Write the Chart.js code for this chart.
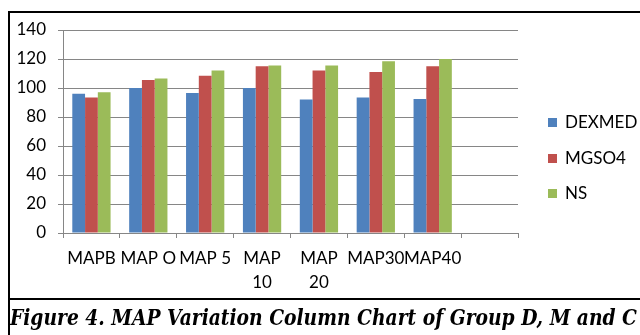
<!DOCTYPE html>
<html>
<head>
<meta charset="utf-8">
<script src="https://cdn.jsdelivr.net/npm/chart.js@4/dist/chart.umd.min.js"></script>
<style>
  html, body { margin: 0; padding: 0; background: #fff; }
  body { width: 640px; height: 335px; position: relative; overflow: hidden; }
  #wrap { position: absolute; left: 0; top: 0; width: 640px; height: 297px; }
  .line { position: absolute; background: #000; }
  .leg { position: absolute; left: 548px; font-family: Lato, "Liberation Sans", sans-serif; font-size: 17px; color: #000; line-height: 20px; height: 20px; white-space: nowrap; }
  .leg span.sw { display: inline-block; width: 9px; height: 9px; margin-right: 8px; vertical-align: 1px; }
  #cap { position: absolute; left: 10px; top: 305px; font-family: "DejaVu Serif Condensed", "DejaVu Serif", serif; font-weight: bold; font-style: italic; font-size: 23px; line-height: 23px; white-space: nowrap; transform-origin: 0 0; color: #000; }
</style>
</head>
<body>
<div id="wrap"><canvas id="c" width="640" height="297"></canvas></div>
<div class="line" style="left:8px; top:11px; width:632px; height:2px;"></div>
<div class="line" style="left:8px; top:11px; width:2px; height:324px;"></div>
<div class="line" style="left:8px; top:298px; width:632px; height:2px;"></div>
<div id="legend"></div>
<div id="cap">Figure 4. MAP Variation Column Chart of Group D, M and C</div>
<script>
const categories = ["MAPB", "MAP O", "MAP 5", ["MAP", "10"], ["MAP", "20"], "MAP30", "MAP40", ""];
const seriesNames = ["DEXMED", "MGSO4", "NS"];
const dexmed = [96, 100, 96.5, 100, 92, 93.5, 92.5, null];
const mgso4  = [93.5, 105.5, 108.5, 115, 112, 111, 115, null];
const ns     = [97, 106.5, 112, 115.5, 115.5, 118.5, 120, null];
const yTicks = [0, 20, 40, 60, 80, 100, 120, 140];
const colors = ["#4F81BD", "#C0504D", "#9BBB59"];

const series = [dexmed, mgso4, ns];
const font = { family: "Lato, 'Liberation Sans', sans-serif", size: 17 };

new Chart(document.getElementById('c'), {
  type: 'bar',
  data: {
    labels: categories,
    datasets: series.map((d, i) => ({
      label: seriesNames[i],
      data: d,
      backgroundColor: colors[i],
      borderWidth: 0,
      categoryPercentage: 0.673,
      barPercentage: 1.0
    }))
  },
  options: {
    responsive: false,
    animation: false,
    layout: { padding: { left: 0, right: 122, top: 30, bottom: 0 } },
    plugins: { legend: { display: false }, tooltip: { enabled: false } },
    scales: {
      y: {
        min: 0, max: 140,
        afterFit: s => { s.width = 63; },
        afterBuildTicks: s => { s.ticks = yTicks.map(v => ({ value: v })); },
        ticks: { font: font, color: '#000', padding: 12 },
        grid: { color: '#868686', lineWidth: 1, tickLength: 5, drawTicks: true },
        border: { color: '#868686', width: 1 }
      },
      x: {
        afterFit: s => { s.height = 64; },
        ticks: { font: Object.assign({ lineHeight: 1.41 }, font), color: '#000', padding: 9, maxRotation: 0, autoSkip: false },
        grid: { drawOnChartArea: false, color: '#868686', tickLength: 5, offset: true },
        border: { color: '#868686', width: 1 }
      }
    }
  }
});

// legend built from series names/colors
const legTops = [112, 148, 183];
const leg = document.getElementById('legend');
seriesNames.forEach((n, i) => {
  const d = document.createElement('div');
  d.className = 'leg';
  d.style.top = legTops[i] + 'px';
  d.innerHTML = '<span class="sw" style="background:' + colors[i] + '"></span>' + n;
  leg.appendChild(d);
});

// fit caption width
const cap = document.getElementById('cap');
const w = cap.getBoundingClientRect().width;
cap.style.transform = 'scaleX(' + (627 / w) + ')';
</script>
</body>
</html>
